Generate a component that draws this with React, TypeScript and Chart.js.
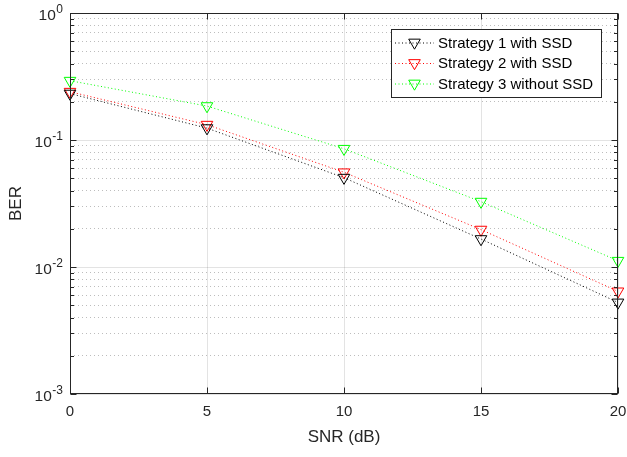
import React, { useEffect, useRef } from 'react';
import { Chart, registerables } from 'chart.js';

Chart.register(...registerables);

const snrDb = [0, 5, 10, 15, 20];
const strategy1Ber = [0.232, 0.124, 0.0505, 0.0166, 0.00526];
const strategy2Ber = [0.24, 0.132, 0.0557, 0.0197, 0.00643];
const strategy3Ber = [0.293, 0.185, 0.0853, 0.0327, 0.0112];
const seriesLabels = ['Strategy 1 with SSD', 'Strategy 2 with SSD', 'Strategy 3 without SSD'];
const seriesColors = ['#000000', '#ff0000', '#00ff00'];
const xTickValues = [0, 5, 10, 15, 20];
const yDecadeExponents = [-3, -2, -1, 0];
const xLabel = 'SNR (dB)';
const yLabel = 'BER';

const FONT = '"Liberation Sans", Arial, Helvetica, sans-serif';
const AXIS = '#262626';
const MARKER_R = 6.7;
const DASH = [1, 2.5];

function isDecade(v: number) {
  const l = Math.log10(v);
  return Math.abs(l - Math.round(l)) < 1e-9;
}

function buildYTicks() {
  const out: number[] = [];
  for (let i = 0; i < yDecadeExponents.length - 1; i++) {
    const base = Math.pow(10, yDecadeExponents[i]);
    for (let m = 1; m <= 9; m++) out.push(m * base);
  }
  out.push(Math.pow(10, yDecadeExponents[yDecadeExponents.length - 1]));
  return out;
}
const yTickValues = buildYTicks();

function drawDownTriangle(ctx: CanvasRenderingContext2D, x: number, y: number, r: number, color: string) {
  ctx.beginPath();
  let rad = Math.PI;
  ctx.moveTo(x + Math.sin(rad) * r, y - Math.cos(rad) * r);
  rad += (2 * Math.PI) / 3;
  ctx.lineTo(x + Math.sin(rad) * r, y - Math.cos(rad) * r);
  rad += (2 * Math.PI) / 3;
  ctx.lineTo(x + Math.sin(rad) * r, y - Math.cos(rad) * r);
  ctx.closePath();
  ctx.strokeStyle = color;
  ctx.lineWidth = 1;
  ctx.setLineDash([]);
  ctx.stroke();
}

const matlabPlugin = {
  id: 'matlabAxes',
  afterDraw(chart: any) {
    const { ctx, chartArea: ca, scales } = chart;
    const xs = scales.x;
    const ys = scales.y;
    ctx.save();
    ctx.setLineDash([]);
    ctx.strokeStyle = AXIS;
    ctx.lineWidth = 1;
    const L = Math.round(ca.left) + 0.5;
    const R = Math.round(ca.right) - 0.5;
    const T = Math.round(ca.top) + 0.5;
    const B = Math.round(ca.bottom) - 0.5;
    ctx.strokeRect(L, T, R - L, B - T);
    ctx.beginPath();
    yTickValues.forEach((v) => {
      const y = Math.round(ys.getPixelForValue(v)) + 0.5;
      const len = isDecade(v) ? 6 : 3.5;
      ctx.moveTo(L, y);
      ctx.lineTo(L + len, y);
      ctx.moveTo(R, y);
      ctx.lineTo(R - len, y);
    });
    xTickValues.forEach((v) => {
      const x = Math.round(xs.getPixelForValue(v)) + 0.5;
      ctx.moveTo(x, B);
      ctx.lineTo(x, B - 6);
      ctx.moveTo(x, T);
      ctx.lineTo(x, T + 6);
    });
    ctx.stroke();

    ctx.fillStyle = AXIS;
    ctx.textBaseline = 'middle';
    ctx.textAlign = 'left';
    yDecadeExponents.forEach((e) => {
      const y = ys.getPixelForValue(Math.pow(10, e));
      const expStr = String(e);
      ctx.font = `12px ${FONT}`;
      const ew = ctx.measureText(expStr).width;
      const expRight = ca.left - 7;
      ctx.fillText(expStr, expRight - ew, y - 3.5);
      ctx.font = `15.5px ${FONT}`;
      const bw = ctx.measureText('10').width;
      ctx.fillText('10', expRight - ew - bw - 0.5, y + 2.5);
    });

    const boxR = ca.right - 17;
    const boxL = boxR - 210;
    const boxT = ca.top + 16;
    const boxB = boxT + 68;
    ctx.fillStyle = '#ffffff';
    ctx.fillRect(boxL, boxT, boxR - boxL, boxB - boxT);
    ctx.strokeStyle = AXIS;
    ctx.lineWidth = 1;
    ctx.strokeRect(Math.round(boxL) + 0.5, Math.round(boxT) + 0.5, Math.round(boxR - boxL), Math.round(boxB - boxT));
    seriesLabels.forEach((label, i) => {
      const y = boxT + 14 + i * 20.5;
      ctx.beginPath();
      ctx.setLineDash(DASH);
      ctx.strokeStyle = seriesColors[i];
      ctx.moveTo(boxL + 4, y);
      ctx.lineTo(boxL + 43, y);
      ctx.stroke();
      drawDownTriangle(ctx, boxL + 23.5, y - 0.5, MARKER_R, seriesColors[i]);
      ctx.fillStyle = '#000000';
      ctx.font = `15px ${FONT}`;
      ctx.textAlign = 'left';
      ctx.textBaseline = 'middle';
      ctx.fillText(label, boxL + 47, y + 0.5);
    });
    ctx.restore();
  },
};

export default function App() {
  const canvasRef = useRef<HTMLCanvasElement | null>(null);

  useEffect(() => {
    document.body.style.margin = '0';
    const canvas = canvasRef.current;
    if (!canvas) return;
    const seriesData = [strategy1Ber, strategy2Ber, strategy3Ber];
    const chart = new Chart(canvas, {
      type: 'line',
      data: {
        datasets: seriesData.map((vals, i) => ({
          label: seriesLabels[i],
          data: snrDb.map((x, j) => ({ x, y: vals[j] })),
          borderColor: seriesColors[i],
          backgroundColor: 'rgba(0,0,0,0)',
          borderWidth: 1,
          borderDash: DASH,
          pointStyle: 'triangle',
          pointRotation: 180,
          pointRadius: MARKER_R,
          pointBorderWidth: 1,
          pointBorderColor: seriesColors[i],
          pointBackgroundColor: 'rgba(0,0,0,0)',
          fill: false,
          tension: 0,
          clip: false,
        })),
      },
      options: {
        animation: false,
        responsive: false,
        devicePixelRatio: 1,
        layout: { padding: { top: 13, right: 9, left: 0, bottom: 0 } },
        plugins: { legend: { display: false }, tooltip: { enabled: false } },
        events: [],
        scales: {
          x: {
            type: 'linear',
            min: 0,
            max: 20,
            afterBuildTicks: (s: any) => {
              s.ticks = xTickValues.map((v) => ({ value: v }));
            },
            afterFit: (s: any) => {
              s.height = 63;
              s.paddingLeft = 0;
              s.paddingRight = 0;
            },
            ticks: {
              font: { family: FONT, size: 15 },
              color: AXIS,
              padding: 9,
              maxRotation: 0,
              autoSkip: false,
            },
            grid: { color: 'rgba(38,38,38,0.13)', drawTicks: false, lineWidth: 1 },
            border: { display: false },
            title: {
              display: true,
              text: xLabel,
              color: AXIS,
              font: { family: FONT, size: 17 },
              padding: { top: 0, bottom: 9 },
            },
          },
          y: {
            type: 'logarithmic',
            min: 0.001,
            max: 1,
            afterBuildTicks: (s: any) => {
              s.ticks = yTickValues.map((v) => ({ value: v, major: isDecade(v) }));
            },
            afterFit: (s: any) => {
              s.width = 70;
              s.paddingTop = 0;
              s.paddingBottom = 0;
            },
            ticks: { display: false, autoSkip: false },
            grid: {
              color: (c: any) => (c.tick && isDecade(c.tick.value) ? 'rgba(38,38,38,0.13)' : 'rgba(38,38,38,0.3)'),
              drawTicks: false,
              lineWidth: 1,
            },
            border: {
              display: false,
              dash: (c: any) => (c.tick && isDecade(c.tick.value) ? [] : [1, 3]),
            },
            title: {
              display: true,
              text: yLabel,
              color: AXIS,
              font: { family: FONT, size: 17 },
              padding: { top: 6, bottom: 0 },
            },
          },
        },
      },
      plugins: [matlabPlugin],
    } as any);
    return () => chart.destroy();
  }, []);

  return (
    <div style={{ position: 'absolute', left: 0, top: 0, width: 627, height: 457, background: '#fff' }}>
      <canvas ref={canvasRef} width={627} height={457} style={{ display: 'block' }} />
    </div>
  );
}
